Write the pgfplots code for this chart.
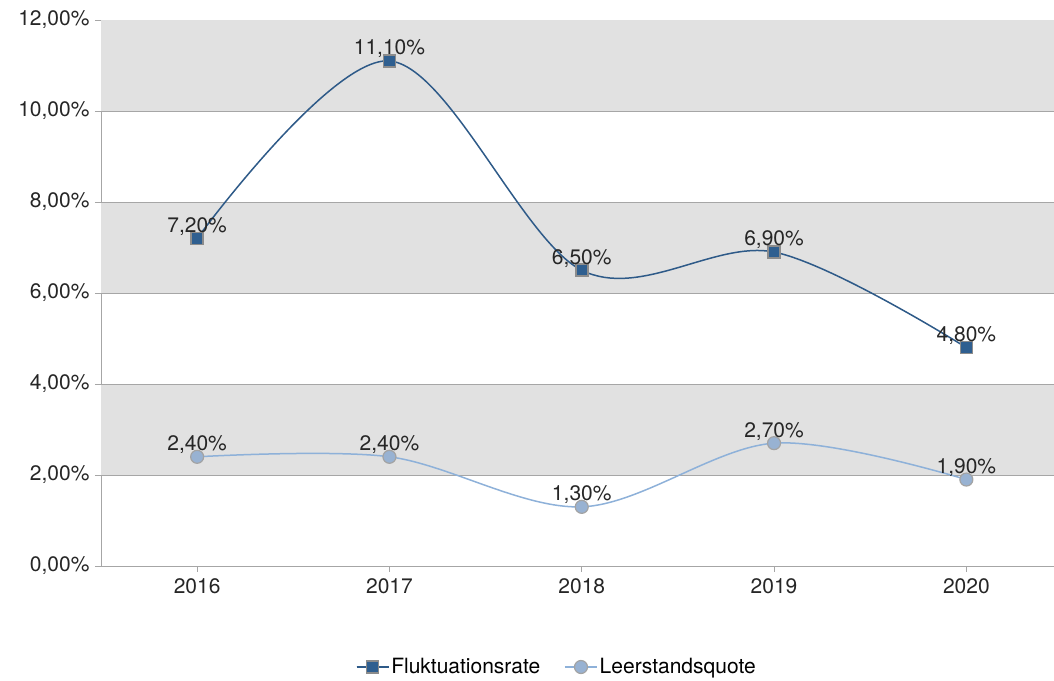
\documentclass[border=0pt]{standalone}
\usepackage{pgfplots}
\pgfplotsset{compat=1.18}
\usepackage{fontspec}
\setmainfont{TeX Gyre Heros}
\definecolor{darkblue}{HTML}{2E5A88}
\definecolor{markdark}{HTML}{2F5F90}
\definecolor{lightblue}{HTML}{8EB1D9}
\definecolor{marklight}{HTML}{98B2D2}
\definecolor{band}{HTML}{E1E1E1}
\definecolor{gridc}{HTML}{A6A6A6}
\definecolor{mborder}{HTML}{8C8C8C}
\newcommand{\cf}{\fontsize{21}{24}\selectfont}
\begin{document}
\begin{tikzpicture}
\useasboundingbox (0,0) rectangle (1054pt,680pt);
\begin{scope}
\clip (0,0) rectangle (1054pt,680pt);
\begin{axis}[
  at={(101pt,114pt)}, anchor=south west,
  scale only axis, width=961.5pt, height=546pt,
  xmin=0, xmax=5, ymin=0, ymax=12,
  axis x line*=bottom, axis y line*=left,
  axis line style={gridc, line width=0.8pt, -},
  xtick={0.5,1.5,2.5,3.5,4.5},
  xticklabels={2016,2017,2018,2019,2020},
  ytick={0,2,4,6,8,10,12},
  yticklabels={{0,00\%},{2,00\%},{4,00\%},{6,00\%},{8,00\%},{10,00\%},{12,00\%}},
  tick align=outside, major tick length=6pt,
  tick style={gridc, line width=0.8pt},
  ymajorgrids, grid style={gridc, line width=0.8pt},
  ticklabel style={font=\cf, text=black!85},
  xticklabel style={yshift=-3pt},
  yticklabel style={xshift=-2pt},
  legend style={at={(0.474,-0.185)}, anchor=center, draw=none, fill=none,
    font=\cf, legend columns=2, /tikz/every even column/.append style={column sep=22pt}},
  legend image code/.code={
    \draw[#1, mark=none] (0pt,0pt) -- (32pt,0pt);
    \draw[#1, mark repeat=2, mark phase=2] plot coordinates {(0pt,0pt) (16pt,0pt) (32pt,0pt)};
  },
  legend cell align=left,
  point meta=y,
  nodes near coords={\pgfmathprintnumber[fixed,fixed zerofill,precision=2,use comma,assume math mode=true]{\pgfplotspointmeta}\%},
  every node near coord/.append style={font=\cf, text=black!85, anchor=south, yshift=-1pt},
  clip=false,
]
\fill[band] (axis cs:0,10) rectangle (axis cs:5,12);
\fill[band] (axis cs:0,6) rectangle (axis cs:5,8);
\fill[band] (axis cs:0,2) rectangle (axis cs:5,4);
\draw[gridc, line width=0.8pt] (axis cs:0,2) -- (axis cs:5,2);
\draw[gridc, line width=0.8pt] (axis cs:0,4) -- (axis cs:5,4);
\draw[gridc, line width=0.8pt] (axis cs:0,6) -- (axis cs:5,6);
\draw[gridc, line width=0.8pt] (axis cs:0,8) -- (axis cs:5,8);
\draw[gridc, line width=0.8pt] (axis cs:0,10) -- (axis cs:5,10);
\addplot[darkblue, line width=1.5pt, smooth, tension=0.55,
  mark=square*, mark size=6pt,
  mark options={fill=markdark, draw=mborder, line width=1.5pt, solid}]
  coordinates {(0.5,7.2) (1.5,11.1) (2.5,6.5) (3.5,6.9) (4.5,4.8)};
\addlegendentry{Fluktuationsrate}
\addplot[lightblue, line width=1.5pt, smooth, tension=0.55,
  mark=*, mark size=6.5pt,
  mark options={fill=marklight, draw=mborder!80, line width=1.2pt, solid}]
  coordinates {(0.5,2.4) (1.5,2.4) (2.5,1.3) (3.5,2.7) (4.5,1.9)};
\addlegendentry{Leerstandsquote}
\end{axis}
\end{scope}
\end{tikzpicture}
\end{document}
